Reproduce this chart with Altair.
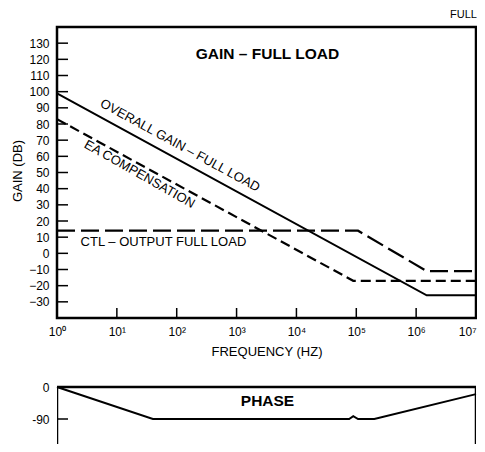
import altair as alt
import pandas as pd

# ---- data ----
overall_f = [1, 1.5e6, 1e7]
overall_db = [99, -26, -26]
ea_f = [1, 8.9e4, 1e7]
ea_db = [83, -17, -17]
ctl_f = [1, 1.07e5, 1.5e6, 1e7]
ctl_db = [14, 14, -11, -11]

phase_f = [1, 40, 7.6e4, 8.9e4, 1.07e5, 2.0e5, 1e7]
phase_deg = [0, -90, -90, -82, -90, -90, -20]

gain_ticks = [-30, -20, -10, 0, 10, 20, 30, 40, 50, 60, 70, 80, 90, 100, 110, 120, 130]
gain_range = [-40, 140]
freq_ticks = [1, 10, 100, 1e3, 1e4, 1e5, 1e6, 1e7]
freq_tick_labels = ["10⁰", "10¹", "10²", "10³", "10⁴", "10⁵", "10⁶", "10⁷"]
phase_ticks = [0, -90, -180]
phase_tick_labels = ["0", "-90", "180"]
phase_range = [-180, 0]

label_text = ["OVERALL GAIN – FULL LOAD", "EA COMPENSATION", "CTL – OUTPUT FULL LOAD"]
label_f = [114, 24, 60]
label_db = [66.7, 49, 7.2]
label_angle = [28.6, 29.5, 0]

FONT = "Liberation Sans"
W = 419          # plot width
HT = 417         # full drawing height (both panels)
GAIN_H = 291     # gain panel height
PH_TOP = 360     # phase panel top, from drawing top
PH_H = 64        # phase panel height

k_gain = (gain_range[1] - gain_range[0]) / GAIN_H
gain_dom = [gain_range[1] - HT * k_gain, gain_range[1]]
k_ph = (phase_range[1] - phase_range[0]) / PH_H
phase_dom = [phase_range[1] - HT * k_ph + PH_TOP * k_ph, phase_range[1] + PH_TOP * k_ph]

xscale = alt.Scale(type="log", domain=[1, 1e7], nice=False)
yscale = alt.Scale(domain=gain_dom, nice=False, zero=False)
pscale = alt.Scale(domain=phase_dom, nice=False, zero=False)

freq_expr = "[" + ",".join("'%s'" % s for s in freq_tick_labels) + "][round(log(datum.value)/LN10)]"
phase_expr = "[" + ",".join("'%s'" % s for s in phase_tick_labels) + "][round(-datum.value/90)]"


def series(f, v):
    return pd.DataFrame({"f": f, "v": v})


xenc = alt.X("f:Q", scale=xscale,
             axis=alt.Axis(values=freq_ticks, labelExpr=freq_expr, title="FREQUENCY (HZ)",
                           ticks=False, domain=False, grid=False, labelPadding=8,
                           titlePadding=8, labelFlush=False, labelOverlap=False,
                           labelAlign={"condition": {"test": "datum.value > 5e6", "value": "right"},
                                       "value": "center"},
                           offset=-(HT - GAIN_H)))
yenc = alt.Y("v:Q", scale=yscale,
             axis=alt.Axis(values=gain_ticks, title="GAIN (DB)", ticks=False, domain=False,
                           grid=False, labelPadding=8, labelOverlap=False, orient="left",
                           labelFlush=False, labelBound=False,
                           titleX=-40, titleY=GAIN_H / 2 - 2, titleBaseline="middle",
                           titleAngle=270, titleAlign="center"))

frame_df = pd.DataFrame({"f": [freq_ticks[0]], "f2": [freq_ticks[-1]],
                         "v": [gain_range[0]], "v2": [gain_range[1]]})
gframe = alt.Chart(frame_df).mark_rect(filled=False, stroke="black", strokeWidth=2.5).encode(
    x=xenc, x2="f2:Q", y=yenc, y2="v2:Q")

overall = alt.Chart(series(overall_f, overall_db)).mark_line(color="black", strokeWidth=2).encode(x=xenc, y=yenc)
ea = alt.Chart(series(ea_f, ea_db)).mark_line(color="black", strokeWidth=2.2, strokeDash=[10, 5]).encode(x=xenc, y=yenc)
ctl = alt.Chart(series(ctl_f, ctl_db)).mark_line(color="black", strokeWidth=2.2, strokeDash=[18, 6]).encode(x=xenc, y=yenc)

ytick_rules = alt.Chart(pd.DataFrame({"v": gain_ticks})).mark_rule(color="black", strokeWidth=1.5).encode(
    y=yenc, x=alt.value(0), x2=alt.value(11))
xtick_rules = alt.Chart(pd.DataFrame({"f": freq_ticks[1:-1]})).mark_rule(color="black", strokeWidth=1.5).encode(
    x=xenc, y=alt.value(GAIN_H - 10), y2=alt.value(GAIN_H))

labels = alt.Chart(pd.DataFrame({"f": label_f, "v": label_db, "t": label_text, "a": label_angle})).mark_text(
    font=FONT, fontSize=13, color="black", align="center", baseline="middle").encode(
    x=xenc, y=yenc, text="t:N", angle=alt.Angle("a:Q", scale=None))

title = alt.Chart(pd.DataFrame({"t": ["GAIN – FULL LOAD"]})).mark_text(
    font=FONT, fontSize=15.5, fontWeight="bold", color="black", align="center", baseline="middle").encode(
    text="t:N", x=alt.value(W / 2 + 1), y=alt.value(27))
full = alt.Chart(pd.DataFrame({"t": ["FULL"]})).mark_text(
    font=FONT, fontSize=11, color="black", align="right", baseline="middle").encode(
    text="t:N", x=alt.value(W + 1), y=alt.value(-12))

gain = alt.layer(gframe, overall, ea, ctl, ytick_rules, xtick_rules, labels, title, full)

penc_y = alt.Y("v:Q", scale=pscale,
               axis=alt.Axis(values=phase_ticks, labelExpr=phase_expr, title=None, ticks=False,
                             domain=False, grid=False, labelPadding=8, labelOverlap=False,
                             orient="left"))
pframe_df = pd.DataFrame({"f": [freq_ticks[0]], "f2": [freq_ticks[-1]],
                          "v": [phase_range[0]], "v2": [phase_range[1]]})
pframe = alt.Chart(pframe_df).mark_rect(filled=False, stroke="black", strokeWidth=2.5, clip=True).encode(
    x="f:Q", x2="f2:Q", y=penc_y, y2="v2:Q")
pline = alt.Chart(series(phase_f, phase_deg)).mark_line(color="black", strokeWidth=2).encode(x="f:Q", y=penc_y)
ptick = alt.Chart(pd.DataFrame({"v": [-90]})).mark_rule(color="black", strokeWidth=1.5).encode(
    y=penc_y, x=alt.value(0), x2=alt.value(11))
ptitle = alt.Chart(pd.DataFrame({"t": ["PHASE"]})).mark_text(
    font=FONT, fontSize=15.5, fontWeight="bold", color="black", align="center", baseline="middle").encode(
    text="t:N", x=alt.value(W / 2 + 1), y=alt.value(PH_TOP + 14))
phase = alt.layer(pframe, pline, ptick, ptitle)

chart = alt.layer(gain, phase).resolve_scale(y="independent").resolve_axis(y="independent").properties(
    width=W, height=HT,
    autosize=alt.AutoSizeParams(type="none"),
    padding={"left": 49, "top": 19, "right": 1, "bottom": 0},
).configure_view(stroke=None).configure_axis(
    labelFont=FONT, labelFontSize=12, labelColor="black", titleFont=FONT, titleFontSize=13,
    titleFontWeight="normal", titleColor="black", labelOverlap=False)

chart.save("out.html", embed_options={"renderer": "svg", "actions": False})
